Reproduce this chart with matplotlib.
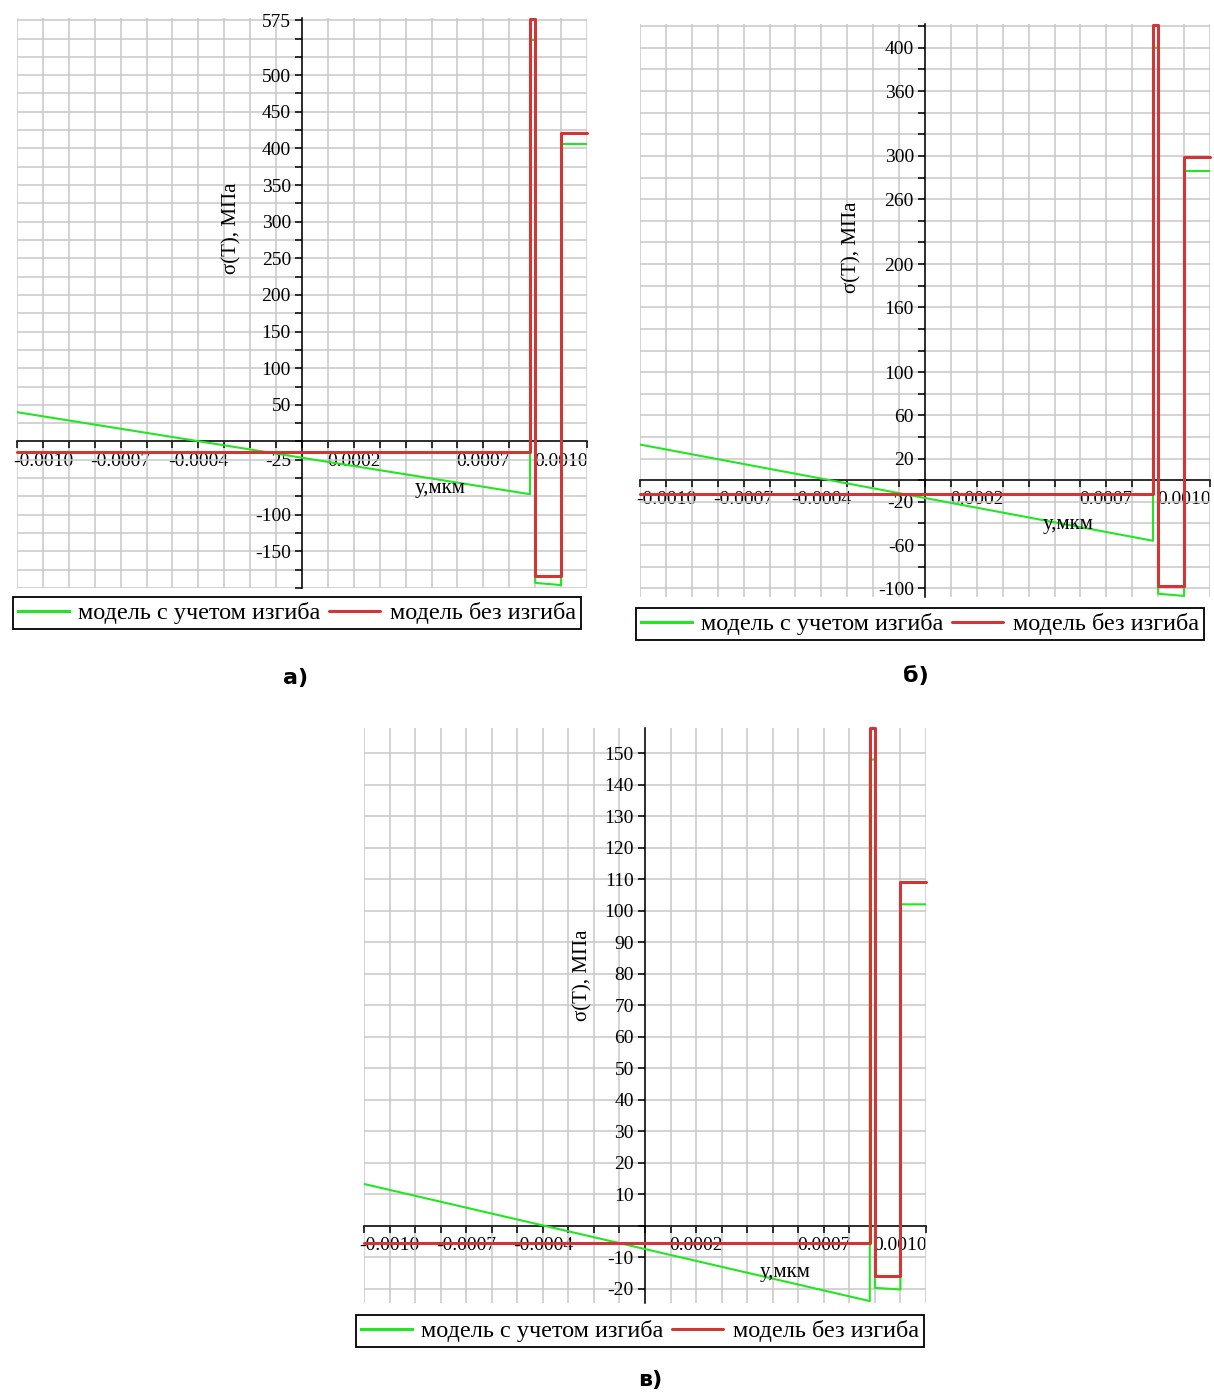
import matplotlib
matplotlib.use("Agg")
import matplotlib.pyplot as plt
import numpy as np

plt.rcParams["font.family"] = ["Liberation Serif", "DejaVu Serif"]

W, H = 1214, 1394

# layer boundaries along y (мкм)
LAYER_EDGES = [-0.0011, 0.00088, 0.0009, 0.001, 0.0011]
X_LABELS = [-0.0010, -0.0007, -0.0004, 0.0002, 0.0007, 0.0010]

# (value at start, value at end) of every layer, МПа
BEND_A = [(40, -72), (548, 548), (-193, -196), (406, 406)]
FLAT_A = [(-14, -14), (577, 577), (-184, -184), (421, 421)]
YLABELS_A = [575, 500, 450, 400, 350, 300, 250, 200, 150, 100, 50, -25, -100, -150]

BEND_B = [(33, -56), (400, 400), (-105, -107), (286, 286)]
FLAT_B = [(-13, -13), (421, 421), (-97.5, -97.5), (299, 299)]
YLABELS_B = [400, 360, 300, 260, 200, 160, 100, 60, 20, -20, -60, -100]

BEND_C = [(13.2, -24), (148, 148), (-19.8, -20.3), (102, 102)]
FLAT_C = [(-5.4, -5.4), (158, 158), (-16, -16), (109, 109)]
YLABELS_C = [150, 140, 130, 120, 110, 100, 90, 80, 70, 60, 50, 40, 30, 20, 10, -10, -20]

GREEN = "#22e622"
RED = "#d03636"
GRID = "#c8c8c8"

fig = plt.figure(figsize=(W / 100, H / 100), dpi=100)


def profile(levels):
    xs, ys = [], []
    for i, (v0, v1) in enumerate(levels):
        xs += [LAYER_EDGES[i], LAYER_EDGES[i + 1]]
        ys += [v0, v1]
    return xs, ys


def px_text(x, y, s, **kw):
    fig.text(x / W, 1 - y / H, s, ha="center", va="center", **kw)


def panel(box, ylim, ystep, ylabels, bend, flat, ylab_xy, xlab_xy, leg_xy, letter, letter_xy):
    left, top, right, bottom = box
    ax = fig.add_axes([left / W, 1 - bottom / H, (right - left) / W, (bottom - top) / H])
    ax.set_xlim(LAYER_EDGES[0], LAYER_EDGES[-1])
    ax.set_ylim(*ylim)

    xt = np.round(np.arange(-11, 12) * 1e-4, 6)
    ax.set_xticks(xt)
    ax.set_xticklabels([f"{v:.4f}" if np.isclose(v, X_LABELS).any() else "" for v in xt])
    yt = np.arange(np.ceil(ylim[0] / ystep) * ystep, ylim[1] + 0.01, ystep)
    ax.set_yticks(yt)
    ax.set_yticklabels([f"{v:g}" if v in ylabels else "" for v in yt])

    ax.grid(True, color=GRID, lw=1.1, zorder=0)
    ax.set_axisbelow(True)
    for s in ("top", "right"):
        ax.spines[s].set_visible(False)
    ax.spines["left"].set_position(("data", 0))
    ax.spines["bottom"].set_position(("data", 0))
    for s in ("left", "bottom"):
        ax.spines[s].set_linewidth(1.1)
    ax.tick_params(direction="out", length=5, width=1.1, labelsize=14, pad=3)

    xs, ys = profile(bend)
    ax.plot(xs, ys, color=GREEN, lw=1.5, label="модель с учетом изгиба", zorder=3)
    xs, ys = profile(flat)
    ax.plot(xs, ys, color=RED, lw=2.2, solid_joinstyle="round", solid_capstyle="round",
            label="модель без изгиба", zorder=4, clip_on=False)

    px_text(*ylab_xy, "σ(T), МПа", rotation=90, fontsize=15)
    px_text(*xlab_xy, "y,мкм", fontsize=15)
    px_text(*letter_xy, letter, fontsize=16, fontweight="bold", family="DejaVu Sans")

    leg = ax.legend(loc="center", bbox_to_anchor=(leg_xy[0] / W, 1 - leg_xy[1] / H),
                    bbox_transform=fig.transFigure, ncol=2, fontsize=17.5, frameon=True,
                    fancybox=False, edgecolor="black", framealpha=1, borderpad=0.2,
                    handlelength=2.1, handletextpad=0.4, columnspacing=0.35)
    leg.get_frame().set_linewidth(1.3)
    for h in leg.get_lines():
        h.set_linewidth(2.2)
    return ax


panel((17, 18, 587, 588), (-200, 578), 25, YLABELS_A, BEND_A, FLAT_A,
      (232, 228), (440, 489), (297, 613), "а)", (296, 678))
panel((640, 24, 1210, 597), (-108, 422), 20, YLABELS_B, BEND_B, FLAT_B,
      (852, 247), (1068, 525), (920, 624), "б)", (916, 676))
panel((364, 728, 926, 1303), (-24.6, 158), 10, YLABELS_C, BEND_C, FLAT_C,
      (583, 975), (785, 1273), (640, 1331), "в)", (650, 1380))

fig.savefig("out.png", dpi=100)
